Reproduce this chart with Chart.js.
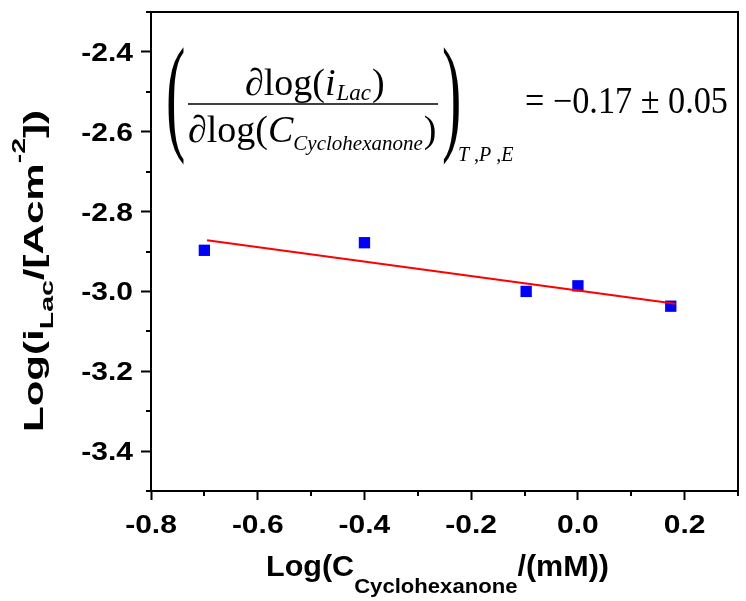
<!DOCTYPE html>
<html><head><meta charset="utf-8">
<script src="https://cdn.jsdelivr.net/npm/chart.js@4.4.0/dist/chart.umd.min.js"></script>
<style>html,body{margin:0;padding:0;background:#fff;}#wrap{width:746px;height:601px;}</style>
</head><body><div id="wrap"><canvas id="c" width="746" height="601"></canvas></div>
<script>
// ---- data ----
const logC = [-0.70, -0.40, -0.097, 0.0, 0.174];        // x: Log(C_Cyclohexanone/(mM))
const logI = [-2.897, -2.878, -3.000, -2.986, -3.037];  // y: Log(i_Lac/[Acm^-2])
const fitX = [-0.695, 0.183];                           // fitted line ends
const fitY = [-2.872, -3.031];
const xMajor = [-0.8, -0.6, -0.4, -0.2, 0.0, 0.2];
const xMinor = [-0.7, -0.5, -0.3, -0.1, 0.1, 0.3];
const yMajor = [-3.4, -3.2, -3.0, -2.8, -2.6, -2.4];
const yMinor = [-3.5, -3.3, -3.1, -2.9, -2.7, -2.5, -2.3];
const xRange = [-0.8, 0.3];
const yRange = [-3.5, -2.3];

const SANS = '"Liberation Sans", Arial, sans-serif';
const SERIF = '"Liberation Serif", "Times New Roman", serif';

function drawRuns(ctx, runs, x, y, sx, sy) {
  ctx.save();
  ctx.translate(x, y);
  ctx.scale(sx, sy || 1);
  let cx = 0;
  for (const r of runs) {
    ctx.font = r.f;
    ctx.fillText(r.t, cx, r.dy || 0);
    cx += ctx.measureText(r.t).width + (r.gap || 0);
  }
  ctx.restore();
}
function runsWidth(ctx, runs) {
  let w = 0;
  for (const r of runs) { ctx.font = r.f; w += ctx.measureText(r.t).width + (r.gap || 0); }
  return w;
}

const decor = {
  id: 'decor',
  afterDraw(chart) {
    const ctx = chart.ctx, a = chart.chartArea;
    const xs = chart.scales.x, ys = chart.scales.y;
    ctx.save();
    ctx.strokeStyle = '#000';
    ctx.fillStyle = '#000';
    // frame top and right
    ctx.lineWidth = 2;
    ctx.beginPath();
    ctx.moveTo(a.left - 1, a.top); ctx.lineTo(a.right, a.top); ctx.lineTo(a.right, a.bottom);
    ctx.stroke();
    // minor ticks
    ctx.beginPath();
    for (const v of xMinor) { const p = Math.round(xs.getPixelForValue(v)); ctx.moveTo(p, a.bottom); ctx.lineTo(p, a.bottom + 5); }
    for (const v of yMinor) { const p = Math.round(ys.getPixelForValue(v)); ctx.moveTo(a.left, p); ctx.lineTo(a.left - 5, p); }
    ctx.stroke();
    // tick labels
    const tf = 'bold 25px ' + SANS, tsx = 1.2;
    ctx.textBaseline = 'alphabetic';
    ctx.textAlign = 'left';
    for (const v of yMajor) {
      const t = v.toFixed(1);
      ctx.font = tf;
      const w = ctx.measureText(t).width * tsx;
      drawRuns(ctx, [{t, f: tf}], 133 - w, ys.getPixelForValue(v) + 9, tsx);
    }
    for (const v of xMajor) {
      const t = v.toFixed(1);
      ctx.font = tf;
      const w = ctx.measureText(t).width * tsx;
      drawRuns(ctx, [{t, f: tf}], xs.getPixelForValue(v) - w / 2, 533, tsx);
    }
    // x title
    const xr = [
      {t: 'Log(C', f: 'bold 29px ' + SANS},
      {t: 'Cyclohexanone', f: 'bold 21px ' + SANS, dy: 17},
      {t: '/(mM))', f: 'bold 29px ' + SANS}
    ];
    const xw = runsWidth(ctx, xr);
    drawRuns(ctx, xr, 266, 576, 343 / xw);
    // y title (rotated)
    const yr = [
      {t: 'Log(i', f: 'bold 28px ' + SANS},
      {t: 'Lac', f: 'bold 19px ' + SANS, dy: 10},
      {t: '/[Acm', f: 'bold 28px ' + SANS},
      {t: '-2', f: 'bold 19px ' + SANS, dy: -18},
      {t: '])', f: 'bold 28px ' + SANS}
    ];
    const yw = runsWidth(ctx, yr);
    ctx.save();
    ctx.translate(43, 432);
    ctx.rotate(-Math.PI / 2);
    drawRuns(ctx, yr, 0, 0, 322 / yw);
    ctx.restore();
    // formula
    const F = 38;
    drawRuns(ctx, [
      {t: '\u2202log(', f: F + 'px ' + SERIF},
      {t: 'i', f: 'italic ' + F + 'px ' + SERIF, gap: 1},
      {t: 'Lac', f: 'italic 23px ' + SERIF, dy: 5, gap: 1},
      {t: ')', f: F + 'px ' + SERIF}
    ], 245, 95, 1);
    ctx.lineWidth = 1.5;
    ctx.beginPath(); ctx.moveTo(188, 104); ctx.lineTo(438, 104); ctx.stroke();
    drawRuns(ctx, [
      {t: '\u2202log(', f: F + 'px ' + SERIF},
      {t: 'C', f: 'italic ' + F + 'px ' + SERIF},
      {t: 'Cyclohexanone', f: 'italic 21px ' + SERIF, dy: 8, gap: 1},
      {t: ')', f: F + 'px ' + SERIF}
    ], 188, 142, 1);
    drawRuns(ctx, [{t: '(', f: '129px ' + SERIF}], 166, 137, 0.45);
    drawRuns(ctx, [{t: ')', f: '129px ' + SERIF}], 442, 137, 0.45);
    drawRuns(ctx, [{t: 'T ,P ,E', f: 'italic 20px ' + SERIF}], 458, 161, 1);
    const er = [{t: '= \u22120.17 \u00b1 0.05', f: '37px ' + SERIF}];
    const ew = runsWidth(ctx, er);
    drawRuns(ctx, er, 525, 113, 203 / ew);
    ctx.restore();
  }
};

new Chart(document.getElementById('c'), {
  type: 'scatter',
  data: {
    datasets: [
      {
        type: 'line',
        data: fitX.map((x, i) => ({x, y: fitY[i]})),
        borderColor: 'rgb(255,0,0)',
        borderWidth: 2,
        pointRadius: 0,
        fill: false
      },
      {
        data: logC.map((x, i) => ({x, y: logI[i]})),
        pointStyle: 'rect',
        pointRadius: 8,
        pointBorderWidth: 0,
        backgroundColor: 'rgb(0,0,255)',
        borderColor: 'rgb(0,0,255)'
      }
    ]
  },
  options: {
    responsive: false,
    animation: false,
    devicePixelRatio: 1,
    layout: {padding: {left: 0, right: 1, top: 12, bottom: 0}},
    plugins: {legend: {display: false}, tooltip: {enabled: false}},
    scales: {
      x: {
        type: 'linear', min: xRange[0], max: xRange[1],
        afterBuildTicks: s => { s.ticks = xMajor.map(v => ({value: v})); },
        afterFit: s => { s.height = 110; },
        ticks: {display: false},
        grid: {drawOnChartArea: false, drawTicks: true, tickLength: 9, tickWidth: 2, tickColor: '#000'},
        border: {display: true, color: '#000', width: 2}
      },
      y: {
        type: 'linear', min: yRange[0], max: yRange[1],
        afterBuildTicks: s => { s.ticks = yMajor.map(v => ({value: v})); },
        afterFit: s => { s.width = 151; },
        ticks: {display: false},
        grid: {drawOnChartArea: false, drawTicks: true, tickLength: 10, tickWidth: 2, tickColor: '#000'},
        border: {display: true, color: '#000', width: 2}
      }
    }
  },
  plugins: [decor]
});
</script>
</body></html>
